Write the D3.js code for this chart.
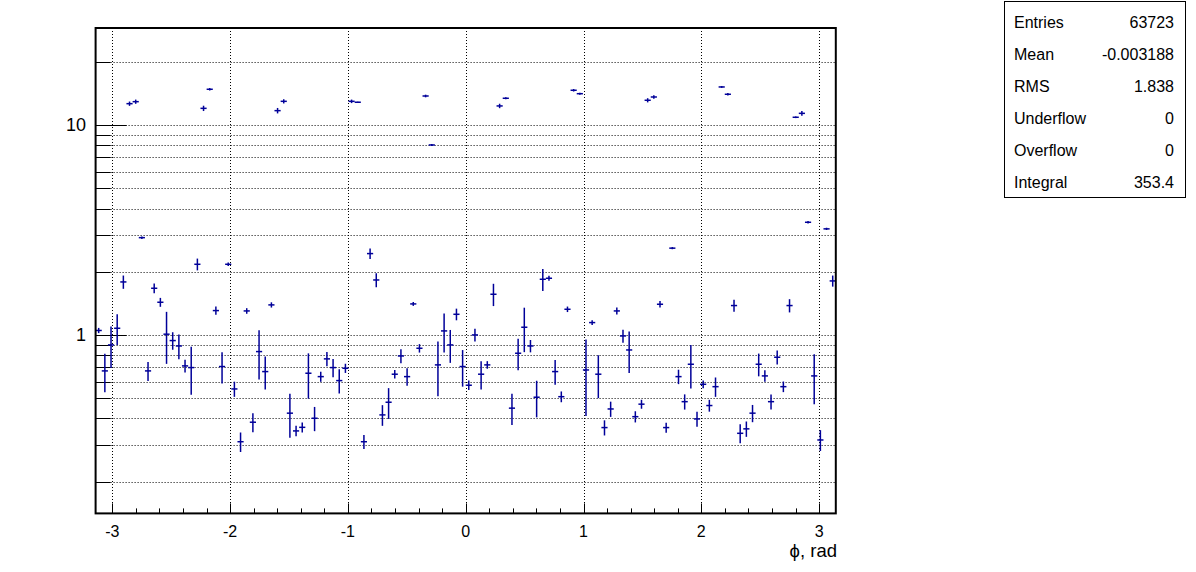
<!DOCTYPE html>
<html>
<head>
<meta charset="utf-8">
<script src="https://cdn.jsdelivr.net/npm/d3@7"></script>
<style>
  html, body { margin: 0; padding: 0; background: #fff; }
  svg { display: block; font-family: "Liberation Sans", Arial, Helvetica, sans-serif; }
</style>
</head>
<body>
<svg id="chart" width="1196" height="572"></svg>
<script>
// ---- data (top-level arrays) ----
const nBins = 120;
const xMin = -Math.PI, xMax = Math.PI;
const binContent = [
  1.05, 0.674, 0.896, 1.076, 1.788, 12.63, 12.91, 2.906, 0.674, 1.668,
  1.431, 1.008, 0.940, 0.886, 0.712, 0.699, 2.17, 12.0, 14.79, 1.306,
  0.707, 2.17, 0.553, 0.310, 1.301, 0.384, 0.833, 0.669, 1.39, 11.7,
  12.96, 0.424, 0.349, 0.363, 0.657, 0.401, 0.633, 0.769, 0.699, 0.606,
  0.694, 12.96, 12.83, 0.310, 2.44, 1.827, 0.416, 0.478, 0.650, 0.794,
  0.633, 1.405, 0.864, 13.74, 8.03, 0.72, 1.045, 0.896, 1.254, 0.707,
  0.576, 1.0, 0.650, 0.72, 1.562, 12.32, 13.4, 0.448, 0.818, 1.088,
  0.886, 0.505, 1.841, 1.862, 0.669, 0.508, 1.325, 14.63, 14.09, 0.681,
  1.145, 0.650, 0.362, 0.444, 1.301, 0.989, 0.848, 0.408, 0.468, 13.11,
  13.59, 1.40, 0.362, 2.59, 0.633, 0.481, 0.725, 0.398, 0.582, 0.461,
  0.567, 15.17, 14.0, 1.38, 0.340, 0.357, 0.424, 0.725, 0.638, 0.481,
  0.783, 0.567, 1.38, 10.88, 11.36, 3.44, 0.638, 0.316, 3.20, 1.808
];
const binError = [
  0.03, 0.14, 0.2, 0.18, 0.13, 0.3, 0.3, 0.04, 0.07, 0.09,
  0.07, 0.28, 0.09, 0.12, 0.05, 0.18, 0.14, 0.35, 0.2, 0.06,
  0.12, 0.04, 0.046, 0.033, 0.04, 0.04, 0.22, 0.12, 0.04, 0.35,
  0.3, 0.1, 0.02, 0.02, 0.16, 0.053, 0.035, 0.06, 0.07, 0.08,
  0.035, 0.25, 0.08, 0.024, 0.14, 0.14, 0.047, 0.08, 0.03, 0.06,
  0.06, 0.03, 0.04, 0.2, 0.08, 0.21, 0.22, 0.16, 0.08, 0.14,
  0.03, 0.07, 0.1, 0.03, 0.19, 0.3, 0.15, 0.076, 0.14, 0.26,
  0.06, 0.1, 0.22, 0.05, 0.09, 0.03, 0.04, 0.2, 0.15, 0.27,
  0.03, 0.15, 0.03, 0.037, 0.05, 0.07, 0.19, 0.025, 0.023, 0.3,
  0.25, 0.05, 0.02, 0.03, 0.05, 0.04, 0.17, 0.033, 0.025, 0.03,
  0.06, 0.15, 0.2, 0.09, 0.035, 0.03, 0.04, 0.09, 0.04, 0.04,
  0.06, 0.033, 0.1, 0.1, 0.3, 0.05, 0.17, 0.036, 0.04, 0.11
];
const xTickLabels = [-3, -2, -1, 0, 1, 2, 3];
const yMajorTicks = [1, 10];
const yMinorTicks = [0.2, 0.3, 0.4, 0.5, 0.6, 0.7, 0.8, 0.9, 2, 3, 4, 5, 6, 7, 8, 9, 20];
const xTitle = "\u03D5, rad";
const statsLabels = ["Entries", "Mean", "RMS", "Underflow", "Overflow", "Integral"];
const statsValues = ["63723", "-0.003188", "1.838", "0", "0", "353.4"];

// ---- layout ----
const frame = { left: 95.6, right: 835.8, top: 28, bottom: 513.4 };
const color = "#000099";

const svg = d3.select("#chart");
const x = d3.scaleLinear().domain([xMin, xMax]).range([frame.left, frame.right]);
const y = d3.scaleLog().domain([0.14125, 28.96]).range([frame.bottom, frame.top]);

// bin edges/centers from histogram definition
const binW = (xMax - xMin) / nBins;
const bins = binContent.map((v, i) => ({
  lo: xMin + i * binW,
  hi: xMin + (i + 1) * binW,
  c: xMin + (i + 0.5) * binW,
  v: v,
  e: binError[i]
}));

// ---- grid ----
const grid = svg.append("g").attr("stroke", "#000").attr("stroke-width", 1)
  .attr("stroke-dasharray", "1,2");
xTickLabels.forEach(t => {
  const px = Math.round(x(t)) + 0.5;
  grid.append("line").attr("x1", px).attr("x2", px)
    .attr("y1", frame.top).attr("y2", frame.bottom);
});
yMajorTicks.concat(yMinorTicks).forEach(t => {
  const py = Math.round(y(t)) + 0.5;
  grid.append("line").attr("x1", frame.left).attr("x2", frame.right)
    .attr("y1", py).attr("y2", py);
});

// ---- axes ----
const xAxisMinor = d3.range(-3, 3.01, 0.2).map(d => +d.toFixed(1));
const axG = svg.append("g").attr("stroke", "#000").attr("stroke-width", 1);
xAxisMinor.forEach(t => {
  const isMajor = Math.abs(t - Math.round(t)) < 1e-6;
  const px = Math.round(x(t)) + 0.5;
  axG.append("line").attr("x1", px).attr("x2", px)
    .attr("y1", frame.bottom).attr("y2", frame.bottom - (isMajor ? 10 : 5));
});
yMajorTicks.forEach(t => {
  const py = Math.round(y(t)) + 0.5;
  axG.append("line").attr("x1", frame.left).attr("x2", frame.left + 31)
    .attr("y1", py).attr("y2", py);
});
yMinorTicks.forEach(t => {
  const py = Math.round(y(t)) + 0.5;
  axG.append("line").attr("x1", frame.left).attr("x2", frame.left + 15)
    .attr("y1", py).attr("y2", py);
});

// tick labels
svg.append("g").selectAll("text").data(xTickLabels).join("text")
  .attr("x", d => x(d)).attr("y", 536.5)
  .attr("text-anchor", "middle").attr("font-size", 16).attr("fill", "#000")
  .text(d => d);
svg.append("g").selectAll("text").data(yMajorTicks).join("text")
  .attr("x", 86).attr("y", d => y(d) + 6.5)
  .attr("text-anchor", "end").attr("font-size", 18).attr("fill", "#000")
  .text(d => d);

// axis title
svg.append("text").attr("x", 837).attr("y", 557)
  .attr("text-anchor", "end").attr("font-size", 18.5).attr("fill", "#000")
  .text(xTitle);

// ---- error-bar crosses ----
const marks = svg.append("g").attr("stroke", color).attr("stroke-width", 1.5).attr("fill", "none");
bins.forEach(b => {
  marks.append("line").attr("x1", x(b.lo)).attr("x2", x(b.hi))
    .attr("y1", y(b.v)).attr("y2", y(b.v));
  marks.append("line").attr("x1", x(b.c)).attr("x2", x(b.c))
    .attr("y1", y(b.v + b.e)).attr("y2", y(Math.max(b.v - b.e, 0.15)));
});

// ---- frame ----
svg.append("rect").attr("x", frame.left).attr("y", frame.top)
  .attr("width", frame.right - frame.left).attr("height", frame.bottom - frame.top)
  .attr("fill", "none").attr("stroke", "#000").attr("stroke-width", 2);

// ---- stats box ----
const sb = svg.append("g");
sb.append("rect").attr("x", 1004.5).attr("y", 1.5).attr("width", 181).attr("height", 196)
  .attr("fill", "#fff").attr("stroke", "#000").attr("stroke-width", 1);
statsLabels.forEach((lab, i) => {
  const by = 27.7 + i * 32.1;
  sb.append("text").attr("x", 1014).attr("y", by).attr("font-size", 16).attr("fill", "#000").text(lab);
  sb.append("text").attr("x", 1174).attr("y", by).attr("font-size", 16).attr("text-anchor", "end")
    .attr("fill", "#000").text(statsValues[i]);
});
</script>
</body>
</html>
